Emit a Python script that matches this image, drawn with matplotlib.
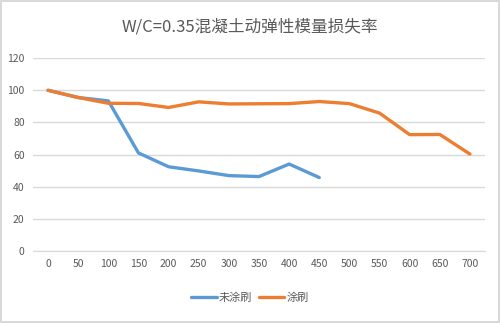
import matplotlib
matplotlib.use("Agg")
import matplotlib.pyplot as plt

plt.rcParams['font.family'] = ['Noto Sans CJK SC', 'DejaVu Sans']

# cycle counts (category axis) and relative dynamic modulus (%)
cycles = ['0', '50', '100', '150', '200', '250', '300', '350',
          '400', '450', '500', '550', '600', '650', '700']
uncoated = [100, 95.5, 93.4, 61, 52.4, 49.8, 46.9, 46.3, 54.1, 45.7]
coated = [100, 95.5, 91.9, 91.8, 89.3, 92.8, 91.5, 91.6, 91.7, 93,
          91.7, 85.8, 72.4, 72.5, 60.3]

blue = '#5B9BD5'
orange = '#ED7D31'
grey = '#595959'

fig = plt.figure(figsize=(5, 3.23), dpi=100)
fig.patch.set_edgecolor('#D9D9D9')
fig.patch.set_linewidth(1.5)
ax = fig.add_axes([0.066, 0.223, 0.904, 0.597])

x_all = range(len(cycles))
ax.plot(range(len(uncoated)), uncoated, color=blue, lw=2.4,
        solid_capstyle='round', label='未涂刷')
ax.plot(x_all, coated, color=orange, lw=2.4,
        solid_capstyle='round', label='涂刷')

ax.set_xlim(-0.5, len(cycles) - 0.5)
ax.set_ylim(0, 120)
ax.set_yticks(range(0, 121, 20))
ax.set_xticks(list(x_all))
ax.set_xticklabels(cycles)
ax.grid(axis='y', color='#D9D9D9', lw=1)
ax.set_axisbelow(True)
for s in ['top', 'right', 'left']:
    ax.spines[s].set_visible(False)
ax.spines['bottom'].set_color('#D9D9D9')
ax.tick_params(length=0, labelsize=7.5, colors=grey, pad=6)

fig.text(0.5, 0.915, 'W/C=0.35混凝土动弹性模量损失率', ha='center',
         va='center', fontsize=12, color=grey)

fig.legend(loc='center', bbox_to_anchor=(0.5, 0.077), ncol=2, frameon=False,
           fontsize=8, labelcolor=grey, handlelength=2.3, handletextpad=0.2,
           columnspacing=0.6)

fig.savefig('out.png', dpi=100)
